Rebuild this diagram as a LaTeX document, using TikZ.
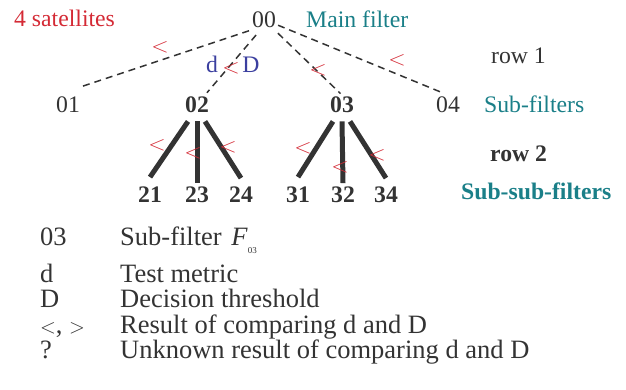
\documentclass[tikz,border=0pt]{standalone}
\usepackage{fontspec}
\setmainfont{Liberation Serif}
\definecolor{myred}{HTML}{D42A35}
\definecolor{myteal}{HTML}{1A7F88}
\definecolor{myblue}{HTML}{3B3F9F}
\definecolor{mygrey}{HTML}{333333}
\begin{document}
\begin{tikzpicture}[x=1pt,y=-1pt,
  lbl/.style={font=\fontsize{23.7}{28}\selectfont, text=mygrey, inner sep=2pt, anchor=base},
  blbl/.style={lbl, font=\fontsize{23.7}{28}\selectfont\bfseries},
  note/.style={font=\fontsize{23.7}{28}\selectfont, inner sep=0pt, anchor=base west},
  cmp/.style={font=\fontsize{22}{26}\selectfont, text=myred, inner sep=0pt, xscale=1.1},
  leg/.style={font=\fontsize{26.5}{30}\selectfont, text=mygrey, inner sep=0pt, anchor=base west},
  dashline/.style={draw=mygrey, line width=1.5pt, dash pattern=on 7pt off 5pt},
  thick line/.style={draw=mygrey, line width=5pt}]
\useasboundingbox (0,0) rectangle (626,390);
% top labels
\node[note, text=myred] (sat) at (14,27) {4 satellites};
\node[lbl] (n00) at (264,28) {00};
\node[note, text=myteal] (main) at (306,28) {Main filter};
\node[note, text=mygrey] (row1) at (491,64) {row 1};
% row 1 nodes
\node[lbl] (n01) at (68,113) {01};
\node[blbl] (n02) at (197,113) {02};
\node[blbl] (n03) at (342,113) {03};
\node[lbl] (n04) at (448,113) {04};
\node[note, text=myteal] (subf) at (484,113) {Sub-filters};
\node[note, text=mygrey, font=\fontsize{23.7}{28}\selectfont\bfseries] (row2) at (490,162) {row 2};
\node[note, text=myteal, font=\fontsize{23.7}{28}\selectfont\bfseries] (subsub) at (461,200) {Sub-sub-filters};
% row 2 nodes
\node[blbl] (n21) at (150,202) {21};
\node[blbl] (n23) at (197,202) {23};
\node[blbl] (n24) at (241,202) {24};
\node[blbl] (n31) at (298,202) {31};
\node[blbl] (n32) at (343,202) {32};
\node[blbl] (n34) at (386,202) {34};
% dashed connectors
\draw[dashline, shorten <=1pt] (n00.south west) -- ([xshift=-2pt,yshift=8pt]n01.north east);
\draw[dashline, shorten <=6pt, shorten >=3pt] ([xshift=-4pt]n00.south) -- ([xshift=8pt]n02.north);
\draw[dashline, shorten <=4pt, shorten >=2pt] ([xshift=-3pt]n00.south east) -- (n03.north);
\draw[dashline, shorten >=8pt] ([yshift=-5pt]n00.east) -- (n04.north);
% thick connectors
\draw[thick line] ([xshift=-9pt,yshift=-6pt]n02.south) -- ([yshift=7pt]n21.north);
\draw[thick line] ([yshift=-6pt]n02.south) -- ([yshift=1pt]n23.north);
\draw[thick line] ([xshift=8pt,yshift=-6pt]n02.south) -- ([yshift=6pt]n24.north);
\draw[thick line] ([xshift=-9pt,yshift=-6pt]n03.south) -- ([yshift=7pt]n31.north);
\draw[thick line] ([yshift=-6pt]n03.south) -- ([yshift=1pt]n32.north);
\draw[thick line] ([xshift=8pt,yshift=-6pt]n03.south) -- ([yshift=6pt]n34.north);
% comparison marks
\node[cmp] (c01) at (160,47) {$<$};
\node[lbl, text=myblue, inner sep=0pt] (dd) at (212,73) {d};
\node[cmp] (c02) at (231,68) {$<$};
\node[lbl, text=myblue, inner sep=0pt] (DD) at (251,73) {D};
\node[cmp] (c03) at (318,70) {$<$};
\node[cmp] (c04) at (397,60) {$<$};
\node[cmp] (c21) at (157,145) {$<$};
\node[cmp] (c23) at (193,153) {$<$};
\node[cmp] (c24) at (228,147) {$<$};
\node[cmp] (c31) at (303,148) {$<$};
\node[cmp] (c32) at (340,167) {$<$};
\node[cmp] (c34) at (377,155) {$<$};
% legend
\node[leg] (k1) at (40,245) {03};
\node[leg] (v1) at (120,245) {Sub-filter\hspace{3pt} \textit{F}\raisebox{-8pt}{\fontsize{9}{10}\selectfont 03}};
\node[leg] (k2) at (40,282) {d};
\node[leg] (v2) at (120,282) {Test metric};
\node[leg] (k3) at (40,307) {D};
\node[leg] (v3) at (120,307) {Decision threshold};
\node[leg] (k4) at (40,333) {{\fontsize{20}{24}\selectfont$<$}, {\fontsize{20}{24}\selectfont$>$}};
\node[leg] (v4) at (120,333) {Result of comparing d and D};
\node[leg] (k5) at (40,358) {?};
\node[leg] (v5) at (120,358) {Unknown result of comparing d and D};
\end{tikzpicture}
\end{document}
